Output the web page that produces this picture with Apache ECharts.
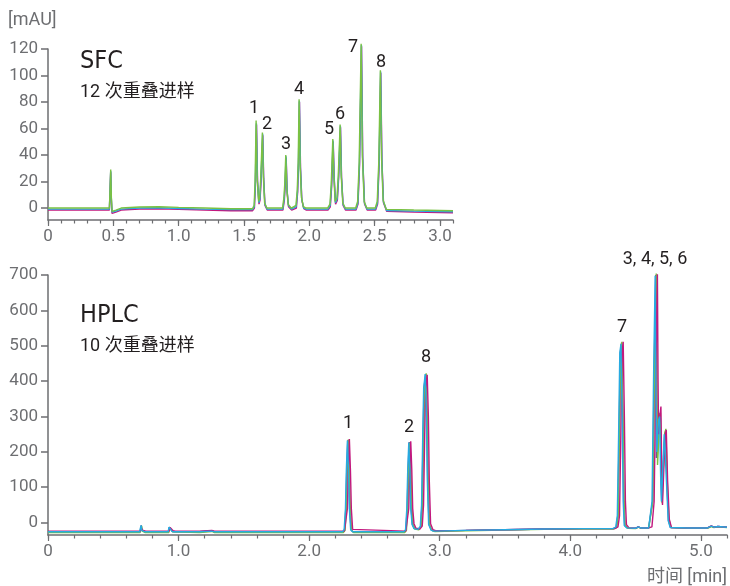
<!DOCTYPE html>
<html><head><meta charset="utf-8">
<script src="https://cdn.jsdelivr.net/npm/echarts@6/dist/echarts.min.js"></script>
<style>html,body{margin:0;padding:0;background:#fff}#c{width:730px;height:586px}</style>
</head><body><div id="c"></div>
<script>
// ---------- tick values ----------
const sfcYTicks = [0, 20, 40, 60, 80, 100, 120];
const sfcXMajor = [0, 0.5, 1.0, 1.5, 2.0, 2.5, 3.0];
const hplcYTicks = [0, 100, 200, 300, 400, 500, 600, 700];
const hplcXMajor = [0, 1.0, 2.0, 3.0, 4.0, 5.0];

// ---------- SFC traces [time (min), mAU] ----------
const sfcMagenta = [[0,-1.5],[0.47,-1.5],[0.476,-0.5],[0.48,27],[0.485,6],[0.49,-4],[0.50,-4.5],[0.52,-3],[0.56,-1.5],[0.7,-0.7],[0.85,-0.5],[1.0,-1],[1.2,-1.5],[1.4,-2],[1.565,-2],
[1.58,0],[1.588,18],[1.596,63],[1.604,20],[1.615,3],[1.623,6],[1.631,20],[1.644,55],[1.651,22],[1.661,2],[1.678,-1.5],
[1.798,-1.5],[1.809,6],[1.815,16],[1.823,38],[1.831,12],[1.841,1],[1.865,-1.5],[1.901,0],[1.911,12],[1.918,33],[1.925,80],[1.933,30],[1.943,6],[1.958,-0.5],[1.978,-1.5],
[2.143,-1.5],[2.161,1],[2.171,16],[2.183,50],[2.191,22],[2.201,3],[2.215,6],[2.225,23],[2.239,61],[2.247,23],[2.259,2],[2.278,-1.5],
[2.358,-1.5],[2.373,3],[2.385,33],[2.4,122],[2.409,38],[2.423,3],[2.443,-1.5],
[2.508,-1.5],[2.523,3],[2.535,33],[2.547,102],[2.556,36],[2.568,4],[2.593,-2.5],[2.8,-3],[3.1,-3.5]];
const sfcCyan = [[0,-0.8],[0.47,-0.8],[0.476,0.2],[0.48,28],[0.485,7],[0.49,-3],[0.50,-3.8],[0.52,-2.2],[0.56,-0.8],[0.7,0],[0.85,0.2],[1.0,-0.3],[1.2,-0.8],[1.4,-1.2],[1.565,-1.2],
[1.579,1],[1.587,19],[1.595,64],[1.603,21],[1.614,4],[1.622,7],[1.63,21],[1.643,56],[1.65,23],[1.66,3],[1.677,-0.8],
[1.797,-0.8],[1.808,7],[1.814,17],[1.822,39],[1.83,13],[1.84,2],[1.864,-0.8],[1.9,1],[1.91,13],[1.917,34],[1.924,81],[1.932,31],[1.942,7],[1.957,0],[1.977,-0.8],
[2.142,-0.8],[2.16,2],[2.17,17],[2.182,51],[2.19,23],[2.2,4],[2.214,7],[2.224,24],[2.238,62],[2.246,24],[2.258,3],[2.277,-0.8],
[2.357,-0.8],[2.372,4],[2.384,34],[2.399,123],[2.408,39],[2.422,4],[2.442,-0.8],
[2.507,-0.8],[2.522,4],[2.534,34],[2.546,103],[2.555,37],[2.567,5],[2.592,-1.8],[2.8,-2.3],[3.1,-2.8]];
const sfcGreen = [[0,0],[0.47,0],[0.476,1],[0.48,29],[0.485,8],[0.49,-2.5],[0.50,-3],[0.52,-1.5],[0.56,0],[0.7,0.8],[0.85,1],[1.0,0.5],[1.2,0],[1.4,-0.5],[1.565,-0.5],
[1.578,2],[1.585,20],[1.593,66],[1.601,22],[1.612,5],[1.62,8],[1.628,22],[1.641,57],[1.648,25],[1.658,4],[1.675,0],
[1.795,0],[1.806,8],[1.812,18],[1.82,40],[1.828,14],[1.838,3],[1.862,0],[1.898,2],[1.908,14],[1.915,35],[1.922,82],[1.93,32],[1.94,8],[1.955,1],[1.975,0],
[2.14,0],[2.158,3],[2.168,18],[2.18,52],[2.188,24],[2.198,5],[2.212,8],[2.222,25],[2.236,63],[2.244,25],[2.256,4],[2.275,0],
[2.355,0],[2.37,5],[2.382,35],[2.397,124],[2.406,40],[2.42,5],[2.44,0],
[2.505,0],[2.52,5],[2.532,35],[2.544,104],[2.553,38],[2.565,6],[2.59,-1],[2.8,-1.5],[3.1,-2]];

// ---------- HPLC traces [time (min), mAU] ----------
const hplcPurple = [[0,-26],[0.705,-26],[0.71,-16],[0.714,-8],[0.72,-22],[0.728,-27],[0.745,-26],[0.922,-26],[0.929,-13],[0.937,-15],[0.952,-25],[0.97,-26],[1.16,-26],[1.175,-23],[1.255,-23],[1.275,-26],
[2.258,-26],[2.271,-20],[2.281,40],[2.288,150],[2.296,233],[2.304,150],[2.311,40],[2.321,-20],[2.336,-26],
[2.728,-26],[2.741,-20],[2.751,40],[2.758,150],[2.766,228],[2.774,150],[2.781,40],[2.791,-5],[2.806,-17],[2.836,-19],[2.854,-11],[2.864,50],[2.873,250],[2.88,380],[2.892,420],[2.901,300],[2.908,120],[2.918,-5],[2.936,-21],[2.956,-24],
[3.2,-22],[3.5,-20],[3.8,-18],[4.1,-17],[4.33,-17],
[4.352,-13],[4.364,20],[4.374,250],[4.383,480],[4.392,508],[4.401,300],[4.409,60],[4.417,-8],[4.437,-15],[4.5,-16],[4.52,-12],[4.54,-15],[4.6,-15],
[4.612,-12],[4.63,60],[4.642,420],[4.654,700],[4.656,400],[4.659,183],[4.666,230],[4.68,300],[4.688,310],[4.695,120],[4.70,60],[4.71,150],[4.722,250],[4.73,258],[4.74,110],[4.752,5],[4.768,-14],
[4.9,-15],[5.05,-15],[5.08,-10],[5.1,-13],[5.13,-11],[5.2,-13]];
const hplcGreen = [[0,-28],[0.705,-28],[0.712,-18],[0.717,-9],[0.722,-24],[0.73,-29],[0.745,-28],[0.925,-28],[0.932,-14],[0.94,-16],[0.955,-26],[0.97,-28],[1.16,-28],[1.175,-25],[1.255,-25],[1.275,-28],
[2.262,-28],[2.275,-22],[2.285,40],[2.292,150],[2.3,235],[2.308,150],[2.315,40],[2.325,-22],[2.34,-28],
[2.732,-28],[2.745,-22],[2.755,40],[2.762,150],[2.772,226],[2.78,150],[2.787,40],[2.797,-5],[2.81,-18],[2.84,-20],[2.858,-12],[2.868,50],[2.877,250],[2.884,380],[2.896,422],[2.905,300],[2.912,120],[2.922,-5],[2.94,-22],[2.96,-25],
[3.2,-23],[3.5,-21],[3.8,-19],[4.1,-18],[4.33,-18],
[4.355,-14],[4.367,20],[4.377,250],[4.386,480],[4.395,511],[4.404,300],[4.412,60],[4.42,-8],[4.44,-16],[4.5,-17],[4.52,-13],[4.54,-16],[4.6,-16],
[4.615,-12],[4.632,60],[4.645,420],[4.658,704],[4.664,420],[4.668,163],[4.673,200],[4.683,300],[4.69,310],[4.697,150],[4.703,55],[4.712,150],[4.725,255],[4.732,265],[4.742,120],[4.755,10],[4.772,-14],
[4.9,-16],[5.05,-16],[5.08,-11],[5.1,-14],[5.13,-12],[5.2,-14]];
const hplcMagenta = [[0,-24],[0.708,-24],[0.714,-15],[0.719,-10],[0.724,-21],[0.732,-25],[0.748,-24],[0.928,-24],[0.935,-14],[0.943,-15],[0.958,-23],[0.975,-24],[1.16,-24],[1.175,-22],[1.255,-22],[1.275,-24],
[2.27,-24],[2.283,-19],[2.293,40],[2.3,150],[2.308,236],[2.316,150],[2.323,40],[2.333,-19],[2.348,-24],
[2.74,-24],[2.753,-19],[2.763,40],[2.77,150],[2.778,230],[2.786,150],[2.793,40],[2.803,-3],[2.818,-16],[2.848,-18],[2.866,-10],[2.876,50],[2.885,250],[2.892,380],[2.904,418],[2.913,300],[2.92,120],[2.93,-3],[2.948,-20],[2.968,-23],
[3.2,-22],[3.5,-20],[3.8,-18],[4.1,-17],[4.34,-17],
[4.365,-12],[4.377,20],[4.387,250],[4.396,480],[4.405,511],[4.414,300],[4.422,60],[4.43,-6],[4.45,-15],[4.5,-16],[4.52,-12],[4.54,-15],[4.6,-15],
[4.625,-12],[4.642,60],[4.655,420],[4.667,702],[4.672,400],[4.676,250],[4.686,300],[4.694,328],[4.70,150],[4.706,50],[4.716,150],[4.728,250],[4.735,262],[4.745,120],[4.758,10],[4.775,-14],
[4.9,-15],[5.05,-15],[5.08,-9],[5.1,-13],[5.13,-11],[5.2,-13]];
const hplcCyan = [[0,-26],[0.702,-26],[0.708,-15],[0.713,-8],[0.718,-22],[0.726,-27],[0.742,-26],[0.92,-26],[0.927,-13],[0.935,-15],[0.95,-25],[0.968,-26],[1.16,-26],[1.175,-24],[1.255,-24],[1.275,-26],
[2.255,-26],[2.268,-20],[2.278,40],[2.285,150],[2.293,232],[2.301,150],[2.308,40],[2.318,-20],[2.333,-26],
[2.725,-26],[2.738,-20],[2.748,40],[2.755,150],[2.763,226],[2.771,150],[2.778,40],[2.788,-5],[2.803,-17],[2.833,-19],[2.851,-11],[2.861,50],[2.87,250],[2.877,380],[2.889,420],[2.898,300],[2.905,120],[2.915,-5],[2.933,-21],[2.953,-24],
[3.2,-22],[3.5,-20],[3.8,-18],[4.1,-17],[4.325,-17],
[4.348,-13],[4.36,20],[4.37,250],[4.379,480],[4.388,505],[4.397,300],[4.405,60],[4.413,-8],[4.433,-15],[4.5,-16],[4.52,-12],[4.54,-15],[4.6,-15],
[4.608,-12],[4.626,60],[4.638,420],[4.65,698],[4.656,350],[4.662,200],[4.676,290],[4.684,300],[4.692,130],[4.698,60],[4.708,150],[4.72,250],[4.727,255],[4.737,110],[4.75,5],[4.765,-14],
[4.9,-15],[5.05,-15],[5.08,-10],[5.1,-13],[5.13,-11],[5.2,-13]];

// ---------- annotation texts ----------
const sfcPeakLabels = ['1','2','3','4','5','6','7','8'];
const hplcPeakLabels = ['1','2','8','7','3, 4, 5, 6'];

const GRAY = '#6d6e71';
const INK = '#231f20';
const TICK_FONT = 'Roboto';
const COLORS = {magenta:'#c2187e', cyan:'#27aae1', green:'#7ac143', purple:'#5b4a9e'};

function fmtX(v){ return v === 0 ? '0' : v.toFixed(1); }

function yAxis(grid, min, max, ticks){
  return {
    type:'value', gridIndex:grid, min:min, max:max,
    axisLine:{show:true, onZero:false, lineStyle:{color:GRAY, width:1.5}},
    axisTick:{show:true, length:7, customValues:ticks, lineStyle:{color:GRAY, width:1.5}},
    axisLabel:{customValues:ticks, margin:10, color:GRAY, fontFamily:TICK_FONT, fontSize:17},
    splitLine:{show:false}
  };
}
function xAxes(grid, max, minorInt, majorInt, majors){
  return [{
    type:'value', gridIndex:grid, min:0, max:max, interval:minorInt, position:'bottom',
    axisLine:{show:true, onZero:false, lineStyle:{color:GRAY, width:1.5}},
    axisTick:{show:true, length:3.5, lineStyle:{color:GRAY, width:1.2}},
    axisLabel:{show:false}, splitLine:{show:false}
  },{
    type:'value', gridIndex:grid, min:0, max:max, interval:majorInt, position:'bottom',
    axisLine:{show:false, onZero:false},
    axisTick:{show:true, length:6, customValues:majors, lineStyle:{color:GRAY, width:1.2}},
    axisLabel:{customValues:majors, margin:8, color:GRAY, fontFamily:TICK_FONT, fontSize:17, formatter:fmtX},
    splitLine:{show:false}
  }];
}
function line(data, color, xi, yi, z){
  return {type:'line', data:data, xAxisIndex:xi, yAxisIndex:yi, showSymbol:false, symbol:'none',
    clip:false, z:z, lineStyle:{color:color, width:1.4}, itemStyle:{color:color}, animation:false};
}
function txt(x, y, s, opt){
  opt = opt || {};
  return {type:'text', x:x, y:y, silent:true, style:{text:s,
    font:(opt.size||18)+'px '+(opt.family||"Roboto, 'Noto Sans CJK SC'"),
    fill:opt.color||INK, align:opt.align||'center', verticalAlign:'middle'}};
}

const sfcLabelPos = [[254,108],[267,124],[286,144],[299,89],[329,129],[340,114],[353,47],[381,62]];
const hplcLabelPos = [[348,423],[409,427],[426,357],[622,327],[655,259]];

const graphics = [
  txt(8,20,'[mAU]',{color:GRAY, align:'left', size:18}),
  txt(727,577,'时间 [min]',{color:GRAY, align:'right', size:18}),
  txt(80,61,'SFC',{size:25, align:'left', family:"'Liberation Sans Narrow', 'DejaVu Sans Condensed', Roboto"}),
  txt(80,92,'12 次重叠进样',{size:18, align:'left'}),
  txt(80,315,'HPLC',{size:25, align:'left', family:"'Liberation Sans Narrow', 'DejaVu Sans Condensed', Roboto"}),
  txt(80,346,'10 次重叠进样',{size:18, align:'left'})
];
sfcPeakLabels.forEach((s,i)=>graphics.push(txt(sfcLabelPos[i][0], sfcLabelPos[i][1], s)));
hplcPeakLabels.forEach((s,i)=>graphics.push(txt(hplcLabelPos[i][0], hplcLabelPos[i][1], s)));

const chart = echarts.init(document.getElementById('c'), null, {renderer:'canvas'});
chart.setOption({
  animation:false,
  backgroundColor:'#fff',
  grid:[
    {left:48, top:49, width:405, height:171, outerBoundsMode:'none', containLabel:false},
    {left:48, top:275, width:679, height:260, outerBoundsMode:'none', containLabel:false}
  ],
  xAxis:[].concat(xAxes(0, 3.1, 0.1, 0.5, sfcXMajor), xAxes(1, 5.2, 0.2, 1.0, hplcXMajor)),
  yAxis:[yAxis(0, -9, 120, sfcYTicks), yAxis(1, -35, 700, hplcYTicks)],
  series:[
    line(sfcMagenta, COLORS.magenta, 0, 0, 2),
    line(sfcCyan, COLORS.cyan, 0, 0, 3),
    line(sfcGreen, COLORS.green, 0, 0, 4),
    line(hplcPurple, COLORS.purple, 2, 1, 2),
    line(hplcGreen, COLORS.green, 2, 1, 3),
    line(hplcMagenta, COLORS.magenta, 2, 1, 4),
    line(hplcCyan, COLORS.cyan, 2, 1, 5)
  ],
  graphic:graphics
});
</script></body></html>
